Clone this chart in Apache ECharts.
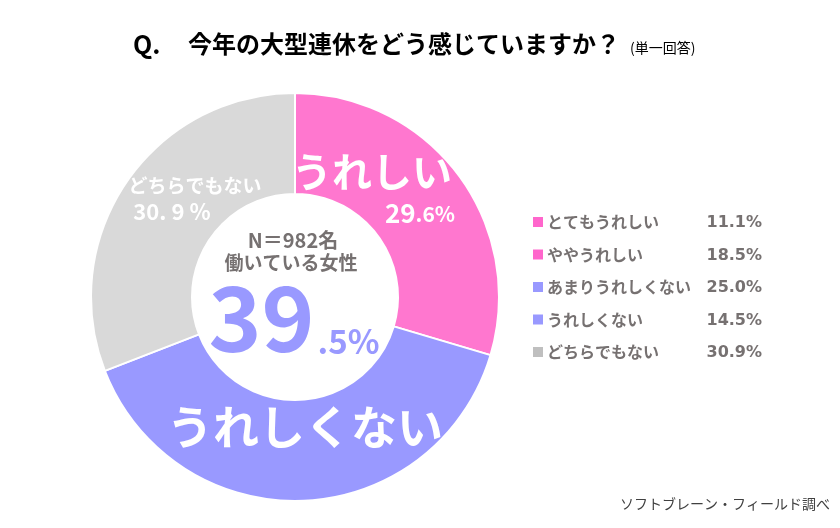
<!DOCTYPE html>
<html><head><meta charset="utf-8">
<script src="https://cdn.jsdelivr.net/npm/echarts@6/dist/echarts.min.js"></script>
<style>html,body{margin:0;padding:0;background:#fff}#c{width:840px;height:528px}</style>
</head><body><div id="c"></div>
<script>
// Donut (main groups)
const groupNames = ['うれしい', 'うれしくない', 'どちらでもない'];
const groupValues = [29.6, 39.5, 30.9];
const groupColors = ['#FF77CF', '#9999FF', '#D9D9D9'];
// Legend (detail breakdown)
const legendNames = ['とてもうれしい', 'ややうれしい', 'あまりうれしくない', 'うれしくない', 'どちらでもない'];
const legendValues = ['11.1%', '18.5%', '25.0%', '14.5%', '30.9%'];
const legendColors = ['#FF66CC', '#FF66CC', '#9999FF', '#9999FF', '#BFBFBF'];

const FONT = '"Noto Sans CJK JP", "Noto Sans", sans-serif';
const chart = echarts.init(document.getElementById('c'), null, {renderer: 'canvas'});

const graphics = [];
// Title
graphics.push({type: 'text', left: 133, top: 32, style: {text: 'Q.', font: 'bold 25px ' + FONT, fill: '#000'}});
graphics.push({type: 'text', left: 188, top: 32, style: {text: '今年の大型連休をどう感じていますか？', font: 'bold 24px ' + FONT, fill: '#000'}});
graphics.push({type: 'text', left: 630, top: 41, style: {text: '(単一回答)', font: '14px ' + FONT, fill: '#000'}});
// Source
graphics.push({type: 'text', right: 10, top: 497, style: {text: 'ソフトブレーン・フィールド調べ', font: '14px ' + FONT, fill: '#404040'}});
// Legend
legendNames.forEach((n, i) => {
  const y = 222 + i * 32.5;
  graphics.push({type: 'rect', shape: {x: 533, y: y - 5, width: 10, height: 10}, style: {fill: legendColors[i]}});
  graphics.push({type: 'text', x: 547, y: y, style: {text: n, font: 'bold 16px ' + FONT, fill: '#767171', verticalAlign: 'middle'}});
  graphics.push({type: 'text', x: 762, y: y + 1, style: {text: legendValues[i], font: 'bold 16px "DejaVu Sans", sans-serif', fill: '#767171', verticalAlign: 'middle', align: 'right'}});
});
// Segment labels
const s0 = groupValues[0].toFixed(1).split('.');
graphics.push({type: 'text', z: 100, x: 372, y: 172, style: {text: groupNames[0], font: 'bold 40px ' + FONT, fill: '#fff', align: 'center', verticalAlign: 'middle'}});
graphics.push({type: 'text', z: 100, x: 420, y: 213, style: {text: '{a|' + s0[0] + '}{b|.' + s0[1] + '%}', fill: '#fff', align: 'center', verticalAlign: 'middle',
  rich: {a: {font: 'bold 26px ' + FONT, fill: '#fff', verticalAlign: 'bottom'}, b: {font: 'bold 21px ' + FONT, fill: '#fff', verticalAlign: 'bottom', padding: [0, 0, 1, 0]}}}});
graphics.push({type: 'text', z: 100, x: 195, y: 186, style: {text: groupNames[2], font: 'bold 19px ' + FONT, fill: '#fff', align: 'center', verticalAlign: 'middle'}});
graphics.push({type: 'text', z: 100, x: 172, y: 212, style: {text: groupValues[2].toFixed(1).replace('.', '. ') + ' %', font: 'bold 22px ' + FONT, fill: '#fff', align: 'center', verticalAlign: 'middle'}});
graphics.push({type: 'text', z: 100, x: 305, y: 427, style: {text: groupNames[1], font: 'bold 46px ' + FONT, fill: '#fff', align: 'center', verticalAlign: 'middle'}});
// Center
const s1 = groupValues[1].toFixed(1).split('.');
graphics.push({type: 'text', z: 100, x: 293, y: 240, style: {text: 'N＝982名', font: 'bold 20px ' + FONT, fill: '#767171', align: 'center', verticalAlign: 'middle'}});
graphics.push({type: 'text', z: 100, x: 291, y: 263, style: {text: '働いている女性', font: 'bold 19px ' + FONT, fill: '#767171', align: 'center', verticalAlign: 'middle'}});
graphics.push({type: 'text', z: 100, x: 294, y: 318, style: {text: '{a|' + s1[0] + '}{b|.' + s1[1] + '%}', align: 'center', verticalAlign: 'middle',
  rich: {a: {font: 'bold 90px ' + FONT, fill: '#9999FF', verticalAlign: 'bottom'}, b: {font: 'bold 33px ' + FONT, fill: '#9999FF', verticalAlign: 'bottom', padding: [0, 0, 5, 3]}}}});

chart.setOption({
  animation: false,
  backgroundColor: '#fff',
  series: [{
    type: 'pie',
    z: 2,
    center: [295, 297],
    radius: [103, 204],
    startAngle: 90,
    clockwise: true,
    label: {show: false},
    labelLine: {show: false},
    emphasis: {disabled: true},
    itemStyle: {borderColor: '#fff', borderWidth: 2},
    data: groupNames.map((n, i) => ({name: n, value: groupValues[i], itemStyle: {color: groupColors[i]}}))
  }],
  graphic: {elements: graphics}
});
</script></body></html>
